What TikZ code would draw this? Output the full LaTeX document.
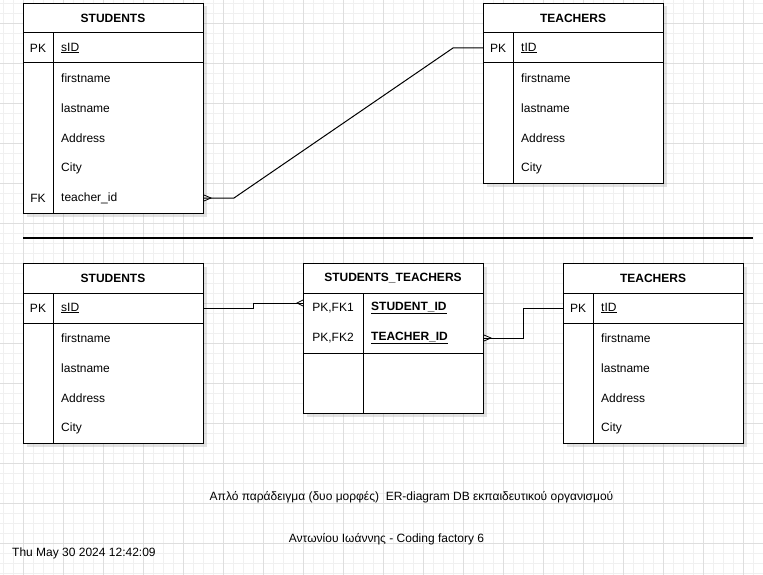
\documentclass[tikz,border=0pt]{standalone}
\usepackage{fontspec}
\setmainfont{Liberation Sans}
\usetikzlibrary{shadows}
\definecolor{gminor}{HTML}{F0F0F0}
\definecolor{gmajor}{HTML}{DEDEDE}
\begin{document}
\begin{tikzpicture}[x=1pt,y=-1pt,
  tbl/.style={draw=black, line width=1pt, fill=white, inner sep=0pt, anchor=north west,
    drop shadow={shadow xshift=3pt, shadow yshift=-3pt, opacity=0.18, fill=black!60}},
  hdr/.style={font=\fontsize{12}{14}\selectfont\bfseries, inner sep=0pt},
  fld/.style={font=\fontsize{12}{14}\selectfont, anchor=west, inner sep=0pt},
  key/.style={font=\fontsize{12}{14}\selectfont, inner sep=0pt},
  sep/.style={line width=1pt},
  rel/.style={line width=1pt, line join=miter},
  foot/.style={line width=0.8pt},
  note/.style={font=\fontsize{12}{14}\selectfont, inner sep=0pt}]
\useasboundingbox (0,0) rectangle (763,575);
\fill[white] (0,0) rectangle (763,575);
% grid
\foreach \x in {3,13,...,763} \draw[gminor, line width=0.6pt] (\x,0) -- (\x,575);
\foreach \y in {3,13,...,575} \draw[gminor, line width=0.6pt] (0,\y) -- (763,\y);
\foreach \x in {23,63,...,763} \draw[gmajor, line width=0.6pt] (\x,0) -- (\x,575);
\foreach \y in {23,63,...,575} \draw[gmajor, line width=0.6pt] (0,\y) -- (763,\y);

% ===== TOP: STUDENTS =====
\node[tbl, minimum width=180pt, minimum height=210pt] (s1) at (23,3) {};
\draw[sep] (23,33) -- (203,33);
\draw[sep] (23,63) -- (203,63);
\draw[sep] (53,33) -- (53,213);
\node[hdr] (s1h) at (113,18) {STUDENTS};
\node[key] (s1pk) at (38,48) {PK};
\node[fld] (s1id) at (61,48) {\underline{sID}};
\node[fld] (s1f1) at (61,78) {firstname};
\node[fld] (s1f2) at (61,108) {lastname};
\node[fld] (s1f3) at (61,138) {Address};
\node[fld] (s1f4) at (61,168) {City};
\node[key] (s1fk) at (38,198) {FK};
\node[fld] (s1f5) at (61,198) {teacher\_id};

% ===== TOP: TEACHERS =====
\node[tbl, minimum width=180pt, minimum height=180pt] (t1) at (483,3) {};
\draw[sep] (483,33) -- (663,33);
\draw[sep] (483,63) -- (663,63);
\draw[sep] (513,33) -- (513,183);
\node[hdr] (t1h) at (573,18) {TEACHERS};
\node[key] (t1pk) at (498,48) {PK};
\node[fld] (t1id) at (521,48) {\underline{tID}};
\node[fld] (t1f1) at (521,78) {firstname};
\node[fld] (t1f2) at (521,108) {lastname};
\node[fld] (t1f3) at (521,138) {Address};
\node[fld] (t1f4) at (521,168) {City};

% connector top
\coordinate (c1s) at (s1.east |- s1f5);
\coordinate (c1t) at (t1.west |- t1pk);
\draw[rel] (c1s) -- ++(30,0) -- ([xshift=-30pt]c1t) -- (c1t);
\draw[foot] ([yshift=3pt]c1s) -- ([xshift=7pt]c1s) -- ([yshift=-3pt]c1s);

% separator
\coordinate (sepa) at (23,238);
\coordinate (sepb) at (753,238);
\draw[line width=1.2pt] (sepa) -- (sepb);

% ===== BOTTOM: STUDENTS =====
\node[tbl, minimum width=180pt, minimum height=180pt] (s2) at (23,263) {};
\draw[sep] (23,293) -- (203,293);
\draw[sep] (23,323) -- (203,323);
\draw[sep] (53,293) -- (53,443);
\node[hdr] (s2h) at (113,278) {STUDENTS};
\node[key] (s2pk) at (38,308) {PK};
\node[fld] (s2id) at (61,308) {\underline{sID}};
\node[fld] (s2f1) at (61,338) {firstname};
\node[fld] (s2f2) at (61,368) {lastname};
\node[fld] (s2f3) at (61,398) {Address};
\node[fld] (s2f4) at (61,428) {City};

% ===== BOTTOM: STUDENTS_TEACHERS =====
\node[tbl, minimum width=180pt, minimum height=150pt] (st) at (303,263) {};
\draw[sep] (303,293) -- (483,293);
\draw[sep] (303,353) -- (483,353);
\draw[sep] (363,293) -- (363,413);
\node[hdr] (sth) at (393,278) {STUDENTS\_TEACHERS};
\node[key] (stk1) at (333,308) {PK,FK1};
\node[fld] (stf1) at (371,308) {\textbf{\underline{STUDENT\_ID}}};
\node[key] (stk2) at (333,338) {PK,FK2};
\node[fld] (stf2) at (371,338) {\textbf{\underline{TEACHER\_ID}}};

% ===== BOTTOM: TEACHERS =====
\node[tbl, minimum width=180pt, minimum height=180pt] (t2) at (563,263) {};
\draw[sep] (563,293) -- (743,293);
\draw[sep] (563,323) -- (743,323);
\draw[sep] (593,293) -- (593,443);
\node[hdr] (t2h) at (653,278) {TEACHERS};
\node[key] (t2pk) at (578,308) {PK};
\node[fld] (t2id) at (601,308) {\underline{tID}};
\node[fld] (t2f1) at (601,338) {firstname};
\node[fld] (t2f2) at (601,368) {lastname};
\node[fld] (t2f3) at (601,398) {Address};
\node[fld] (t2f4) at (601,428) {City};

% connector students -> students_teachers
\coordinate (c2s) at (s2.east |- s2pk);
\coordinate (c2t) at (303,303);
\draw[rel] (c2s) -- (253,308) -- (253,303) -- (c2t);
\draw[foot] ([yshift=3pt]c2t) -- ([xshift=-6pt]c2t) -- ([yshift=-3pt]c2t);

% connector students_teachers -> teachers
\coordinate (c3s) at (st.east |- stk2);
\coordinate (c3t) at (t2.west |- t2pk);
\draw[rel] (c3s) -- (523,338) -- (523,308) -- (c3t);
\draw[foot] ([yshift=3pt]c3s) -- ([xshift=7pt]c3s) -- ([yshift=-3pt]c3s);

% notes
\node[note] (n1) at (411.5,497) {Απλό παράδειγμα (δυο μορφές)\ \ ER-diagram DB εκπαιδευτικού οργανισμού};
\node[note] (n2) at (386.5,539) {Αντωνίου Ιωάννης - Coding factory 6};
\node[note, anchor=west] (n3) at (12,553) {Thu May 30 2024 12:42:09};
\end{tikzpicture}
\end{document}
